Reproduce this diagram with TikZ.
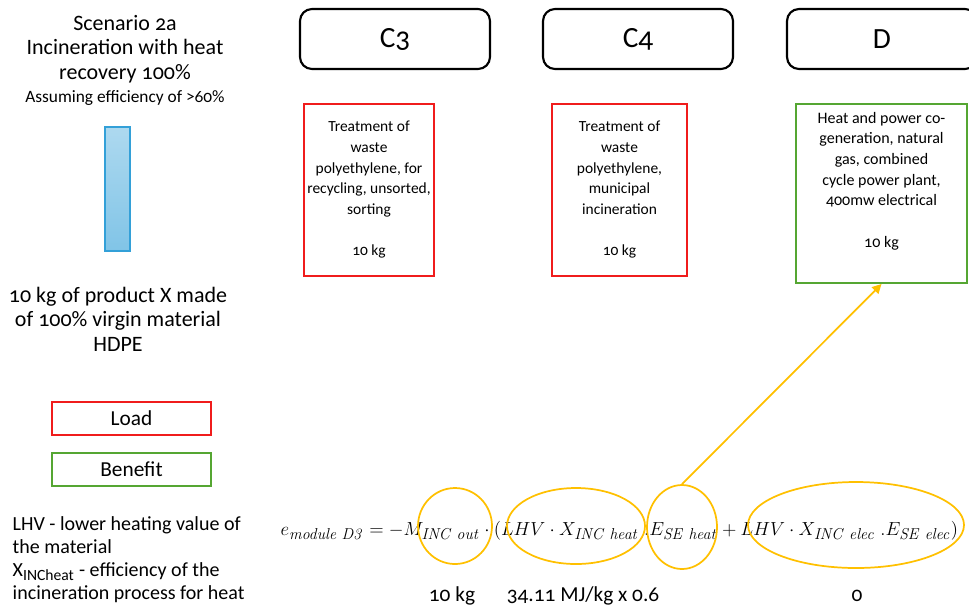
\documentclass[tikz,border=0pt]{standalone}
\usepackage[no-math]{fontspec}
\setmainfont{Carlito}[Numbers=OldStyle]
\usetikzlibrary{arrows.meta,shapes.geometric}
\definecolor{loadred}{HTML}{F01C1C}
\definecolor{benefitgreen}{HTML}{55A632}
\definecolor{markyellow}{HTML}{FFC000}
\definecolor{barblue}{HTML}{33A0D8}
\def\defaultscriptratio{.78}

\begin{document}
\begin{tikzpicture}[x=0.75pt, y=-0.75pt,
  stage/.style={shape=rectangle, draw=black, line width=1.6pt, rounded corners=9pt, minimum width=142.5pt, minimum height=45pt, font=\fontsize{22}{24}\selectfont},
  load/.style={shape=rectangle, draw=loadred, line width=1.8pt, inner sep=0.5pt, align=center, font=\fontsize{11.6}{15.5}\selectfont},
  benefit/.style={shape=rectangle, draw=benefitgreen, line width=1.8pt},
  key/.style={shape=rectangle, line width=1.5pt, minimum width=119pt, minimum height=25pt, font=\fontsize{16}{18}\selectfont},
  ring/.style={shape=ellipse, draw=markyellow, line width=1.3pt, inner sep=0pt},
  num/.style={font=\fontsize{16}{18}\selectfont}]
\useasboundingbox (0,0) rectangle (969,608);

\node[align=center, font=\fontsize{16.5}{18.6}\selectfont] (title) at (125,49) {Scenario 2a\\Incineration with heat\\recovery 100\%};
\node[font=\fontsize{13}{15}\selectfont] (assume) at (125,98) {Assuming efficiency of >60\%};
\node[shape=rectangle, draw=barblue, line width=1.1pt, top color=barblue!40, bottom color=barblue!62, minimum width=18.75pt, minimum height=93pt] (bar) at (117.5,189) {};
\node[align=center, font=\fontsize{16.5}{18.4}\selectfont] (product) at (118,319) {10 kg of product X made\\of 100\% virgin material\\HDPE};

\node[key, draw=loadred] (loadkey) at (131.5,418.5) {Load};
\node[key, draw=benefitgreen] (benefitkey) at (131.5,469.5) {Benefit};
\node[align=left, anchor=west, font=\fontsize{15}{17.25}\selectfont] (legend) at (8,559.5) {LHV - lower heating value of\\the material\\X\textsubscript{INCheat} - efficiency of the\\incineration process for heat};

\node[stage] (c3) at (395,39) {C3};
\node[stage] (c4) at (638,39) {C4};
\node[stage] (d) at (882,39) {D};

\node[load, minimum width=97.5pt, minimum height=129pt] (c3box) at (369,190) {Treatment of\\waste\\polyethylene, for\\recycling, unsorted,\\sorting\\\mbox{}\\10 kg};
\node[load, minimum width=101pt, minimum height=129pt] (c4box) at (619.5,190) {Treatment of\\waste\\polyethylene,\\municipal\\incineration\\\mbox{}\\10 kg};
\node[benefit, minimum width=128pt, minimum height=134pt] (dbox) at (881.5,193.5) {};
\node[align=center, font=\fontsize{12}{15.5}\selectfont] (dtext) at (881.5,181) {Heat and power co-\\generation, natural\\gas, combined\\cycle power plant,\\400mw electrical\\\mbox{}\\10 kg};

\node[anchor=west, transform shape, scale=0.985, font=\fontsize{15}{18}\selectfont] (formula) at (276,530) {$e_{\mathit{module\ D3}} = -M_{\mathit{INC\ out}}\cdot\Bigl(LHV\cdot X_{\mathit{INC\ heat}}\;.E_{\mathit{SE\ heat}} + LHV\cdot X_{\mathit{INC\ elec}}\;.E_{\mathit{SE\ elec}}\Bigr)$};

\node[ring, minimum width=55.5pt, minimum height=57pt] (mout) at (455,526) {};
\node[ring, minimum width=103.5pt, minimum height=57pt] (xheat) at (576,526) {};
\node[ring, minimum width=52.5pt, minimum height=63pt] (eheat) at (682,527) {};
\node[ring, minimum width=162pt, minimum height=64.5pt] (xelec) at (856,525) {};

\node[num] (mval) at (452,596) {10 kg};
\node[num] (hval) at (583,596) {34.11 MJ/kg x 0.6};
\node[num] (eval) at (857,596) {0};

\draw[-{Triangle[length=7pt,width=7pt]}, line width=1.3pt, draw=markyellow] (eheat.north) -- (dbox.south);
\end{tikzpicture}
\end{document}
